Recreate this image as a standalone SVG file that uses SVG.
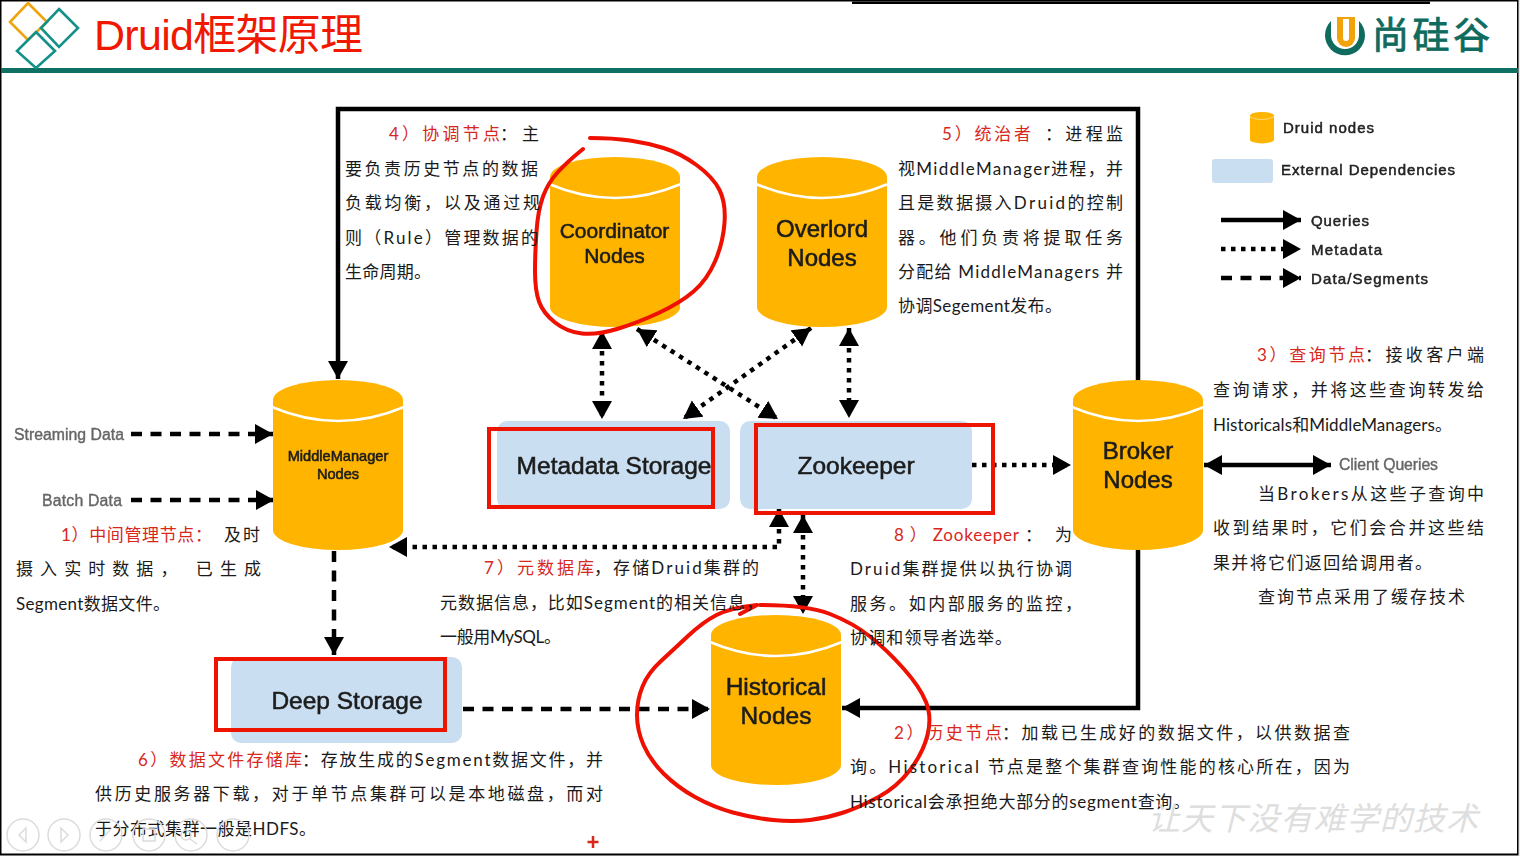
<svg xmlns="http://www.w3.org/2000/svg" width="1520" height="856" viewBox="0 0 1520 856">
<style>
text{font-family:"Lato","Noto Sans CJK SC",sans-serif;font-size:17px;fill:#1a1a1a}
.r{fill:#d8271c}
.g{font-family:"Liberation Sans","Noto Sans CJK SC",sans-serif;fill:#1c1c1c;stroke:#1c1c1c;stroke-width:.55;text-anchor:middle;filter:url(#soft)}
.l{font-family:"Liberation Sans",sans-serif;fill:#222;stroke:#222;stroke-width:.5;font-size:15px;filter:url(#soft)}
.s{font-family:"Liberation Sans",sans-serif;fill:#666;stroke:#666;stroke-width:.4;font-size:15.8px;filter:url(#soft)}
.blue{fill:#c9dff1}
.frame{fill:none;stroke:#ee1500;stroke-width:4}
.q{fill:none;stroke:#000;stroke-width:4.5}
.m{fill:none;stroke:#000;stroke-width:4.5;stroke-dasharray:4.5 5.5}
.d{fill:none;stroke:#000;stroke-width:4.5;stroke-dasharray:11 8.5}
.ink{fill:none;stroke:#ee1000;stroke-width:4;stroke-linejoin:round;stroke-linecap:round}
.b{fill:none;stroke:#dcdcdc;stroke-width:1.5}
</style>
<defs>
<filter id="soft" x="-5%" y="-20%" width="110%" height="140%"><feGaussianBlur stdDeviation="0.4"/></filter>
<marker id="a" markerUnits="userSpaceOnUse" markerWidth="22" markerHeight="22" refX="18" refY="10" orient="auto-start-reverse"><path d="M0,0 L18,10 L0,20Z" fill="#000"/></marker>
<g id="cyl"><path d="M0,20 V150 A65,20 0 0 0 130,150 V20 A65,20 0 0 0 0,20Z" fill="#ffb400"/><path d="M-1,27 Q65,55 131,27" fill="none" stroke="#fff" stroke-width="2.5"/></g>
</defs>
<rect width="1520" height="856" fill="#fff"/>
<g id="page">
<rect x="0.5" y="0.5" width="1517.5" height="854" fill="none" stroke="#000" stroke-width="2"/>
<rect x="1518.5" y="0" width="1.5" height="856" fill="#e8e8e8"/>
<rect x="852" y="1.5" width="578" height="2.5" fill="#000"/>
<rect x="1" y="68" width="1517" height="5" fill="#0e6f63"/>
</g>
<g id="header-logo" fill="none" stroke-width="2.6">
<path d="M28,3 L47,22 L28,40 L10,22Z" stroke="#f0a30a"/>
<path d="M59,9 L78,28 L59,47 L41,28Z" stroke="#12918a"/>
<path d="M36,32 L55,51 L36,68 L17,51Z" stroke="#12918a"/>
</g>
<text id="title" x="94" y="50" textLength="269" lengthAdjust="spacing" style="font-family:'Liberation Sans','Noto Sans CJK SC',sans-serif;font-size:43px;fill:#f01800">Druid框架原理</text>
<g id="brand">
<path d="M1331,22 A20,20 0 1 0 1359,22 L1359,36 A14,14 0 0 1 1331,36Z" fill="#0e6b5d" transform="translate(0,-1)"/>
<path d="M1337,17 H1355 V38 A9,9 0 0 1 1337,38Z" fill="#f0a30a"/>
<path d="M1343,19 H1349 V38 A3,3 0 0 1 1343,38Z" fill="#fff"/>
<text x="1372" y="49" textLength="118" style="font-size:37px;fill:#0e6b5d;stroke:#0e6b5d;stroke-width:.8">尚硅谷</text>
</g>

<g id="connectors">
<path class="q" d="M1138,381 V109 H338 V379" marker-end="url(#a)"/>
<path class="q" d="M1138,549 V708 H842" marker-end="url(#a)"/>
<path class="q" d="M1204,465 H1331" marker-start="url(#a)" marker-end="url(#a)"/>
<path class="m" d="M972,465 H1071" marker-end="url(#a)"/>
<path class="m" d="M602,331 V419" marker-start="url(#a)" marker-end="url(#a)"/>
<path class="m" d="M849,328 V418" marker-start="url(#a)" marker-end="url(#a)"/>
<path class="m" d="M637,329 L778,419" marker-start="url(#a)" marker-end="url(#a)"/>
<path class="m" d="M811,328 L683,419" marker-start="url(#a)" marker-end="url(#a)"/>
<path class="m" d="M779,509 V547 H389" marker-start="url(#a)" marker-end="url(#a)"/>
<path class="m" d="M803,515 V614" marker-start="url(#a)" marker-end="url(#a)"/>
<path class="d" d="M131,434 H273" marker-end="url(#a)"/>
<path class="d" d="M131,500 H274" marker-end="url(#a)"/>
<path class="d" d="M334,551 V655" marker-end="url(#a)"/>
<path class="d" d="M463,709 H710" marker-end="url(#a)"/>
</g>

<g id="coordinator-nodes"><use href="#cyl" x="550" y="157"/><text class="g" style="font-size:21px" x="614.5" y="238">Coordinator</text><text class="g" style="font-size:21px" x="614.5" y="263">Nodes</text></g>
<g id="overlord-nodes"><use href="#cyl" x="757" y="157"/><text class="g" style="font-size:24px" x="822" y="237">Overlord</text><text class="g" style="font-size:24px" x="822" y="266">Nodes</text></g>
<g id="middlemanager-nodes"><use href="#cyl" x="273" y="380"/><text class="g" style="font-size:14.6px" x="338" y="461">MiddleManager</text><text class="g" style="font-size:14.6px" x="338" y="479">Nodes</text></g>
<g id="broker-nodes"><use href="#cyl" x="1073" y="380"/><text class="g" style="font-size:24px" x="1138" y="459">Broker</text><text class="g" style="font-size:24px" x="1138" y="488">Nodes</text></g>
<g id="historical-nodes"><use href="#cyl" x="711" y="615"/><text class="g" style="font-size:24.5px" x="776" y="695">Historical</text><text class="g" style="font-size:24.5px" x="776" y="724">Nodes</text></g>
<g id="metadata-storage"><rect class="blue" x="497" y="421" width="233" height="88" rx="10"/><text class="g" style="font-size:24.5px" x="614" y="474">Metadata Storage</text></g>
<g id="zookeeper"><rect class="blue" x="740" y="421" width="232" height="88" rx="10"/><text class="g" style="font-size:24.5px" x="856" y="474">Zookeeper</text></g>
<g id="deep-storage"><rect class="blue" x="231" y="657" width="231" height="86" rx="10"/><text class="g" style="font-size:24.5px" x="347" y="709">Deep Storage</text></g>

<g id="highlights">
<rect class="frame" x="489" y="429" width="224" height="78"/>
<rect class="frame" x="756" y="425" width="237" height="88"/>
<rect class="frame" x="216" y="659" width="229" height="71"/>
<path class="ink" d="M583,149 Q567,162 557.5,172.5 Q548,183 543,196.5 Q538,210 536.5,231.5 Q535,253 535,271.5 Q535,290 539,301.5 Q543,313 555,322.5 Q567,332 582,333.5 Q597,335 617,329 Q637,323 658.5,313 Q680,303 693.5,291.5 Q707,280 715,261.5 Q723,243 724.5,223 Q726,203 719.5,190 Q713,177 696.5,165 Q680,153 663.5,148 Q647,143 630,140.5 Q613,138 590,138"/>
<path class="ink" d="M740,614 L757,605 Q730,608 716.5,615 Q703,622 688,636 Q673,650 660.5,661.5 Q648,673 642.5,686.5 Q637,700 637,715 Q637,730 643.5,745 Q650,760 663.5,773.5 Q677,787 695,797 Q713,807 733,812.5 Q753,818 773,820 Q793,822 810,820 Q827,818 843.5,812.5 Q860,807 878.5,797 Q897,787 910,770 Q923,753 927.5,735 Q932,717 926,702 Q920,687 903.5,668.5 Q887,650 870,636.5 Q853,623 830,614 Q807,605 760,605"/>
</g>

<g id="legend">
<g transform="translate(1250,112) scale(.185,.185)"><use href="#cyl"/></g>
<text class="l" x="1283" y="133" textLength="91">Druid nodes</text>
<rect class="blue" x="1212" y="159" width="61" height="24" rx="3"/>
<text class="l" x="1281" y="175" textLength="174">External Dependencies</text>
<path class="q" d="M1221,220 H1301" marker-end="url(#a)"/>
<path class="m" d="M1221,249 H1301" marker-end="url(#a)"/>
<path class="d" d="M1221,278 H1301" marker-end="url(#a)"/>
<text class="l" x="1311" y="226" textLength="58">Queries</text>
<text class="l" x="1311" y="255" textLength="71">Metadata</text>
<text class="l" x="1311" y="284" textLength="117">Data/Segments</text>
<text class="s" x="14" y="440" textLength="110">Streaming Data</text>
<text class="s" x="42" y="506" textLength="80">Batch Data</text>
<text class="s" x="1339" y="470" textLength="99">Client Queries</text>
</g>

<g id="notes">
<text class="r" x="61" y="541" textLength="151">1）中间管理节点：</text><text x="224" y="541" textLength="36">及时</text>
<text x="16" y="575" textLength="245">摄入实时数据， 已生成</text>
<text x="16" y="610" textLength="154">Segment数据文件。</text>

<text class="r" x="389" y="140" textLength="111">4）协调节点</text><text x="500" y="140" textLength="39">：主</text>
<text x="345" y="175" textLength="193">要负责历史节点的数据</text>
<text x="345" y="209" textLength="195">负载均衡，以及通过规</text>
<text x="345" y="244" textLength="193">则（Rule）管理数据的</text>
<text x="345" y="278" textLength="86">生命周期。</text>

<text class="r" x="942" y="140" textLength="89">5）统治者</text><text x="1045" y="140" textLength="78">：进程监</text>
<text x="898" y="175" textLength="225">视MiddleManager进程，并</text>
<text x="898" y="209" textLength="225">且是数据摄入Druid的控制</text>
<text x="898" y="244" textLength="225">器。他们负责将提取任务</text>
<text x="898" y="278" textLength="225">分配给 MiddleManagers 并</text>
<text x="898" y="312" textLength="164">协调Segement发布。</text>

<text class="r" x="1257" y="361" textLength="108">3）查询节点</text><text x="1365" y="361" textLength="119">：接收客户端</text>
<text x="1213" y="396" textLength="271">查询请求，并将这些查询转发给</text>
<text x="1213" y="431" textLength="239">Historicals和MiddleManagers。</text>
<text x="1258" y="500" textLength="226">当Brokers从这些子查询中</text>
<text x="1213" y="534" textLength="271">收到结果时，它们会合并这些结</text>
<text x="1213" y="569" textLength="219">果并将它们返回给调用者。</text>
<text x="1258" y="603" textLength="207">查询节点采用了缓存技术</text>

<text class="r" x="894" y="541" textLength="125">8 ） Zookeeper</text><text x="1025" y="541" textLength="47">： 为</text>
<text x="850" y="575" textLength="222">Druid集群提供以执行协调</text>
<text x="850" y="610" textLength="232">服务。如内部服务的监控，</text>
<text x="850" y="644" textLength="162">协调和领导者选举。</text>

<text class="r" x="484" y="574" textLength="110">7）元数据库</text><text x="594" y="574" textLength="165">，存储Druid集群的</text>
<text x="440" y="609" textLength="323">元数据信息，比如Segment的相关信息，</text>
<text x="440" y="643" textLength="121">一般用MySQL。</text>

<text class="r" x="138" y="766" textLength="164">6）数据文件存储库</text><text x="302" y="766" textLength="301">：存放生成的Segment数据文件，并</text>
<text x="95" y="800" textLength="508">供历史服务器下载，对于单节点集群可以是本地磁盘，而对</text>
<text x="95" y="835" textLength="221">于分布式集群一般是HDFS。</text>

<text class="r" x="894" y="739" textLength="108">2）历史节点</text><text x="1002" y="739" textLength="348">：加载已生成好的数据文件，以供数据查</text>
<text x="850" y="773" textLength="500">询。Historical 节点是整个集群查询性能的核心所在，因为</text>
<text x="850" y="808" textLength="340">Historical会承担绝大部分的segment查询。</text>
</g>

<text id="watermark" x="1148" y="830" textLength="330" style="font-size:32px;font-style:italic;font-weight:400;fill:#dedede">让天下没有难学的技术</text>
<path id="cursor" d="M593,836 V848 M587.5,842 H598.5" stroke="#d8271c" stroke-width="2.5" fill="none"/>
<g id="player">
<circle class="b" cx="23" cy="835" r="16"/><circle class="b" cx="64" cy="835" r="16"/><circle class="b" cx="106" cy="835" r="16"/><circle class="b" cx="149" cy="835" r="16"/><circle class="b" cx="191" cy="835" r="16"/><circle class="b" cx="233" cy="835" r="16"/>
<path class="b" d="M26,828 L19,835 L26,842Z M61,828 L68,835 L61,842Z M100,841 L111,829 M143,829 H155 V841 H143Z M186,830 A5,5 0 1 1 186,840 A5,5 0 1 1 186,830 M190,839 L197,844"/>
</g>
</svg>
